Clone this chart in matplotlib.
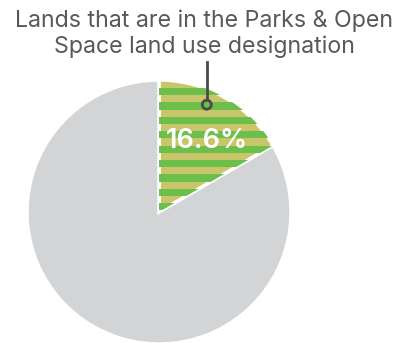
import matplotlib.pyplot as plt
from matplotlib.patches import Rectangle, Circle
import numpy as np

# --------------------------------------
labels = ["Parks & Open Space", "Other"]
values = [16.6, 83.4]
title = "Lands that are in the Parks & Open\nSpace land use designation"

gray = "#d3d4d6"
green = "#6cbf4b"
khaki = "#c9c56a"
dark = "#4a4a4a"

# --------------------------------------
fig = plt.figure(figsize=(4.04, 3.43), dpi=100)
ax = fig.add_axes([0, 0, 1, 1])

cx, cy, r = 159, 131, 132
wedges, texts, autotexts = ax.pie(
    values, colors=[khaki, gray], startangle=90, counterclock=False,
    center=(cx, cy), radius=r, autopct="%.1f%%", pctdistance=0.66,
    wedgeprops=dict(edgecolor="white", linewidth=2.5), frame=True)
autotexts[1].set_visible(False)
lab = autotexts[0]
la = np.deg2rad(57)
lab.set_position((cx + 0.66 * r * np.cos(la), cy + 0.64 * r * np.sin(la)))
lab.set_color("white")
lab.set_fontsize(19.5)
lab.set_fontfamily("Inter")
lab.set_fontweight("semibold")
lab.set_zorder(5)

# stripes clipped to the green wedge
period = 14.4
y = cy + r - 8 - period / 2
while y > cy - 10:
    rect = Rectangle((cx - 5, y), r + 10, period / 2, facecolor=green,
                     edgecolor="none", zorder=2)
    ax.add_patch(rect)
    rect.set_clip_path(wedges[0])
    y -= period

ax.set_xlim(0, 404)
ax.set_ylim(0, 343)
ax.set_aspect("equal")
ax.axis("off")

# callout
ang = np.deg2rad(66)
px, py = cx + 0.89 * r * np.cos(ang), cy + 0.89 * r * np.sin(ang)
ax.plot([px, px], [py + 4, 343 - 62], color=dark, lw=2, zorder=6)
ax.add_patch(Circle((px, py), 4.5, facecolor=green, edgecolor=dark, lw=2, zorder=7))

ax.text(204, 343 - 10, title, ha="center", va="top", fontsize=16.7,
        family="Inter", color="#595959", linespacing=1.15)

fig.savefig("out.png", dpi=100)
